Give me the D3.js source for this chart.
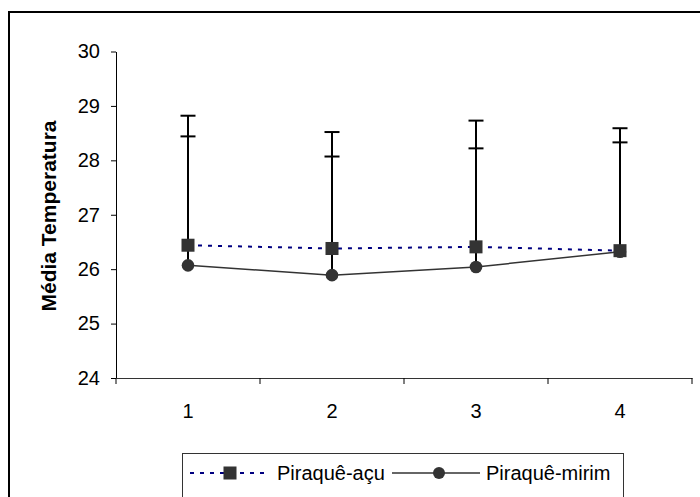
<!DOCTYPE html>
<html><head><meta charset="utf-8">
<script src="https://cdn.jsdelivr.net/npm/d3@7"></script>
<style>body{margin:0;background:#fff;}svg{display:block;font-family:"Liberation Sans",Arial,sans-serif;}</style>
</head><body>
<script>
const categories = ["1","2","3","4"];
const acuMeans = [26.44, 26.38, 26.41, 26.34];
const acuErr = [2.38, 2.14, 2.32, 2.25];
const mirimMeans = [26.07, 25.89, 26.04, 26.32];
const mirimErr = [2.37, 2.18, 2.18, 2.01];
const yTicks = [24,25,26,27,28,29,30];
const seriesNames = ["Piraquê-açu","Piraquê-mirim"];

const W=700,H=497, FS=20;
const svg=d3.select("body").append("svg").attr("width",W).attr("height",H);
// outer frame
svg.append("rect").attr("x",9).attr("y",12).attr("width",720).attr("height",520)
  .attr("fill","none").attr("stroke","#000").attr("stroke-width",2);

const x=d3.scaleBand().domain(categories).range([116,692]).paddingInner(0).paddingOuter(0);
const y=d3.scaleLinear().domain([24,30]).range([378,51.5]);
const cx=c=>x(c)+x.bandwidth()/2;

// y axis
const ya=svg.append("g").attr("transform","translate(116,0)")
  .call(d3.axisLeft(y).tickValues(yTicks).tickFormat(d3.format("d")).tickSize(5).tickSizeOuter(0).tickPadding(11));
ya.select(".domain").attr("stroke","#000");
ya.selectAll("text").attr("font-size",FS).attr("fill","#000").attr("font-family","Liberation Sans, Arial, sans-serif");
// x axis
const xa=svg.append("g").attr("transform","translate(0,378)")
  .call(d3.axisBottom(x).tickSize(0).tickPadding(26));
xa.select(".domain").attr("stroke","#333");
xa.selectAll("text").attr("font-size",FS).attr("fill","#000").attr("font-family","Liberation Sans, Arial, sans-serif");
// x boundary ticks
const bounds=categories.map(c=>x(c)).concat([x.range()[1]]);
svg.append("g").selectAll("line").data(bounds).join("line")
  .attr("x1",d=>d).attr("x2",d=>d).attr("y1",378).attr("y2",384).attr("stroke","#000");

// y label
svg.append("text").attr("transform","translate(55.5,216) rotate(-90)").attr("text-anchor","middle")
  .attr("font-size",21).attr("font-weight","bold").text("Média Temperatura");

// error bars
function errBars(means,errs){
  const g=svg.append("g");
  categories.forEach((c,i)=>{
    const px=cx(c);
    g.append("line").attr("x1",px).attr("x2",px).attr("y1",y(means[i])).attr("y2",y(means[i]+errs[i]))
      .attr("stroke","#000").attr("stroke-width",2);
    g.append("line").attr("x1",px-7.5).attr("x2",px+7.5).attr("y1",y(means[i]+errs[i])).attr("y2",y(means[i]+errs[i]))
      .attr("stroke","#000").attr("stroke-width",2);
  });
}
errBars(acuMeans,acuErr);
errBars(mirimMeans,mirimErr);

const line=d3.line().x((d,i)=>cx(categories[i])).y(d=>y(d));
svg.append("path").datum(mirimMeans).attr("d",line).attr("fill","none").attr("stroke","#333").attr("stroke-width",1.5);
svg.append("path").datum(acuMeans).attr("d",line).attr("fill","none").attr("stroke","#000080").attr("stroke-width",2).attr("stroke-dasharray","4,6");

svg.append("g").selectAll("circle").data(mirimMeans).join("circle")
  .attr("cx",(d,i)=>cx(categories[i])).attr("cy",d=>y(d)).attr("r",6.3).attr("fill","#333");
svg.append("g").selectAll("rect").data(acuMeans).join("rect")
  .attr("x",(d,i)=>cx(categories[i])-6.5).attr("y",d=>y(d)-6.5).attr("width",13).attr("height",13).attr("fill","#333");

// legend
const lg=svg.append("g");
lg.append("rect").attr("x",182.5).attr("y",453.5).attr("width",441).attr("height",60).attr("fill","#fff").attr("stroke","#333");
const ly=473;
lg.append("line").attr("x1",190).attr("x2",268).attr("y1",ly).attr("y2",ly).attr("stroke","#000080").attr("stroke-width",2).attr("stroke-dasharray","4,6");
lg.append("rect").attr("x",223.5).attr("y",ly-6.5).attr("width",13).attr("height",13).attr("fill","#333");
lg.append("text").attr("x",277).attr("y",ly+6.5).attr("font-size",FS).text(seriesNames[0]);
lg.append("line").attr("x1",392).attr("x2",480).attr("y1",ly).attr("y2",ly).attr("stroke","#333").attr("stroke-width",1.5);
lg.append("circle").attr("cx",439).attr("cy",ly).attr("r",6).attr("fill","#333");
lg.append("text").attr("x",486).attr("y",ly+6.5).attr("font-size",FS).text(seriesNames[1]);
</script>
</body></html>
